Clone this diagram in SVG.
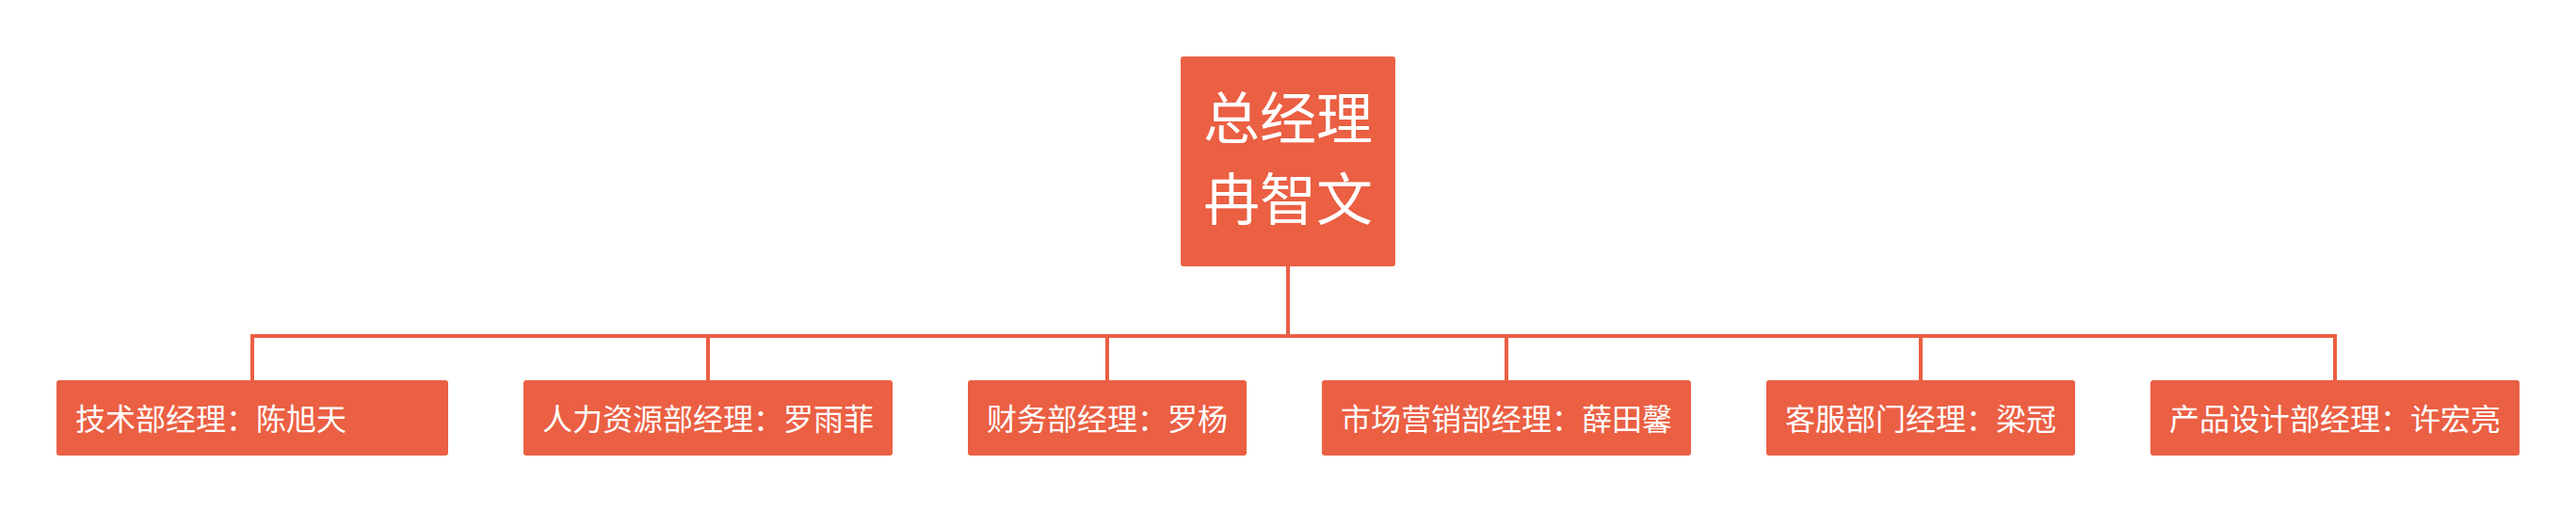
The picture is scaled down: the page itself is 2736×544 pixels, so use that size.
<svg xmlns="http://www.w3.org/2000/svg" width="2736" height="544" viewBox="0 0 2736 544">
<style>
.box{fill:#EB5F43;}
.lbl{font-family:"Noto Sans CJK SC","Noto Sans",sans-serif;font-size:32px;fill:#FFFFFF;}
.root{font-family:"Noto Sans CJK SC","Noto Sans",sans-serif;font-size:60px;fill:#FFFFFF;text-anchor:middle;}
.conn{fill:none;stroke:#EB5F43;stroke-width:4;}
</style>
<rect width="2736" height="544" fill="#FFFFFF"/>
<g id="connectors">
<path class="conn" d="M1368 283 V357"/>
<path class="conn" d="M268 404 V357 H2480 V404"/>
<path class="conn" d="M752 357 V404"/>
<path class="conn" d="M1176 357 V404"/>
<path class="conn" d="M1600 357 V404"/>
<path class="conn" d="M2040 357 V404"/>
</g>
<g id="root">
<rect class="box" x="1254" y="60" width="228" height="223" rx="3"/>
<text class="root" x="1368" y="148">总经理</text>
<text class="root" x="1368" y="234">冉智文</text>
</g>
<g id="n1">
<rect class="box" x="60" y="404" width="416" height="80" rx="3"/>
<text class="lbl" x="80" y="457">技术部经理：陈旭天</text>
</g>
<g id="n2">
<rect class="box" x="556" y="404" width="392" height="80" rx="3"/>
<text class="lbl" x="576" y="457">人力资源部经理：罗雨菲</text>
</g>
<g id="n3">
<rect class="box" x="1028" y="404" width="296" height="80" rx="3"/>
<text class="lbl" x="1048" y="457">财务部经理：罗杨</text>
</g>
<g id="n4">
<rect class="box" x="1404" y="404" width="392" height="80" rx="3"/>
<text class="lbl" x="1424" y="457">市场营销部经理：薛田馨</text>
</g>
<g id="n5">
<rect class="box" x="1876" y="404" width="328" height="80" rx="3"/>
<text class="lbl" x="1896" y="457">客服部门经理：梁冠</text>
</g>
<g id="n6">
<rect class="box" x="2284" y="404" width="392" height="80" rx="3"/>
<text class="lbl" x="2304" y="457">产品设计部经理：许宏亮</text>
</g>
</svg>
